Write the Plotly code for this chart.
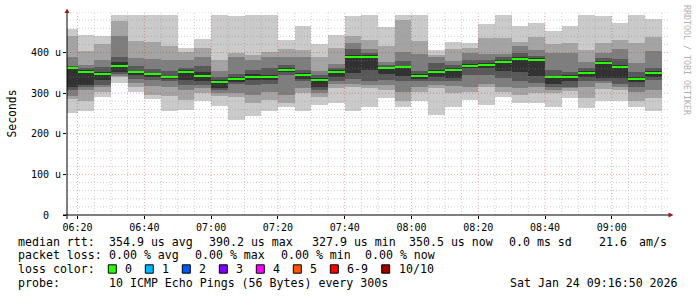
import plotly.graph_objects as go
import pandas as pd

# ---------------- data ----------------
slot_end = pd.date_range("2026-01-24 06:20", periods=36, freq="5min")

# sorted ping rtt values (microseconds) per 5-minute slot, rank 1 (fastest) .. 10 (slowest)
ping01 = [251, 255, 290, 326, 304, 285, 257, 259, 282, 269, 234, 244, 255, 267, 255, 271, 277, 255,
          267, 288, 267, 280, 247, 267, 284, 271, 290, 275, 277, 266, 288, 263, 282, 280, 266, 257]
ping02 = [286, 282, 304, 339, 316, 296, 292, 284, 300, 292, 290, 276, 284, 275, 300, 290, 312, 315,
          312, 308, 280, 304, 312, 300, 304, 315, 304, 296, 300, 300, 306, 288, 310, 307, 282, 288]
ping03 = [292, 308, 315, 343, 326, 318, 316, 308, 312, 301, 300, 296, 303, 296, 312, 300, 323, 323,
          321, 321, 304, 316, 321, 318, 315, 323, 315, 312, 315, 308, 312, 316, 325, 315, 304, 308]
ping04 = [309, 315, 320, 348, 336, 333, 329, 321, 321, 308, 323, 321, 323, 345, 330, 308, 329, 335,
          331, 333, 329, 329, 329, 329, 345, 345, 337, 329, 325, 315, 316, 329, 331, 323, 315, 333]
ping05 = [315, 320, 333, 353, 344, 341, 335, 333, 329, 313, 328, 333, 333, 351, 335, 316, 341, 349,
          356, 347, 343, 335, 339, 337, 361, 361, 355, 351, 343, 323, 330, 341, 337, 337, 327, 341]
ping06 = [365, 356, 351, 378, 355, 349, 343, 357, 353, 333, 339, 347, 345, 362, 349, 337, 356, 393,
          393, 364, 368, 347, 357, 362, 371, 375, 382, 389, 386, 343, 344, 354, 380, 370, 339, 355]
ping07 = [368, 361, 364, 389, 366, 359, 354, 362, 366, 339, 348, 358, 362, 370, 357, 345, 361, 408,
          400, 370, 380, 355, 374, 370, 382, 382, 390, 400, 392, 356, 353, 361, 386, 384, 353, 361]
ping08 = [389, 370, 382, 441, 386, 384, 382, 382, 390, 355, 390, 382, 389, 390, 390, 355, 372, 423,
          408, 378, 402, 396, 388, 380, 398, 396, 397, 416, 407, 400, 398, 378, 400, 408, 375, 405]
ping09 = [441, 405, 421, 478, 429, 425, 417, 402, 412, 382, 398, 394, 402, 408, 407, 390, 411, 441,
          431, 416, 480, 429, 394, 408, 411, 435, 435, 426, 439, 421, 423, 407, 423, 430, 423, 439]
ping10 = [458, 443, 441, 493, 493, 493, 493, 412, 434, 493, 490, 493, 493, 431, 466, 421, 444, 490,
          493, 462, 493, 493, 407, 427, 423, 471, 493, 466, 474, 452, 466, 493, 489, 474, 493, 482]
median_rtt = [362, 353, 348, 367, 352, 347, 340, 353, 343, 327.9, 334, 340, 340, 357, 344, 333, 352, 390.2,
              389, 361, 364, 343, 353, 358, 367, 370, 377, 384, 381, 339, 339, 349, 375, 364, 334, 350.5]

y_tick_values = [0, 100, 200, 300, 400]
y_tick_labels = ["0\u00a0\u00a0", "100 u", "200 u", "300 u", "400 u"]
x_tick_labels = ["06:20", "06:40", "07:00", "07:20", "07:40", "08:00", "08:20", "08:40", "09:00"]

loss_labels = ["0", "1", "2", "3", "4", "5", "6-9", "10/10"]
loss_colors = ["#26ff00", "#00b8ff", "#0059ff", "#7e00ff", "#ff00ff", "#ff5500", "#ff0000", "#a10000"]

stats_rtt = ["354.9 us avg", "390.2 us max", "327.9 us min", "350.5 us now", "0.0 ms sd", "21.6", "am/s"]
stats_loss = ["0.00 % avg", "0.00 % max", "0.00 % min", "0.00 % now"]
probe_text = "10 ICMP Echo Pings (56 Bytes) every 300s"
stamp_text = "Sat Jan 24 09:16:50 2026"

# ---------------- figure ----------------
W, H = 697, 297
L, R, T, B = 67, 668, 12, 215  # plot area in pixels


def px(x):
    return (x - L) / (R - L)


def py(y):
    return (B - y) / (B - T)


MONO = "DejaVu Sans Mono"
centers = slot_end - pd.Timedelta(seconds=150)
step_ms = 300000

fig = go.Figure()

pings = [ping01, ping02, ping03, ping04, ping05, ping06, ping07, ping08, ping09, ping10]
smoke_colors = ["#cacaca", "#a4a4a4", "#7e7e7e", "#585858", "#323232"]
for i in range(5):
    lo = pings[i]
    hi = pings[9 - i]
    fig.add_trace(go.Bar(
        x=centers, base=lo, y=[h - l for h, l in zip(hi, lo)], width=step_ms,
        marker=dict(color=smoke_colors[i], line=dict(width=0)),
        hoverinfo="skip", showlegend=False))

swidth = 500 / (B - T)
fig.add_trace(go.Bar(
    x=centers, base=[m - swidth for m in median_rtt], y=[2 * swidth] * len(median_rtt), width=step_ms,
    marker=dict(color=loss_colors[0], line=dict(width=0)),
    hoverinfo="skip", showlegend=False))

x0 = pd.Timestamp("2026-01-24 06:16:50")
x1 = pd.Timestamp("2026-01-24 09:16:50")

shapes = []
minor_col = "rgba(140,140,140,0.42)"
major_col = "rgba(200,50,50,0.42)"
dash = "1px,2px"
# vertical grid
t = pd.Timestamp("2026-01-24 06:20")
while t < x1:
    major = (t.minute % 20 == 0)
    shapes.append(dict(type="line", xref="x", yref="paper", x0=t, x1=t, y0=0, y1=1,
                       line=dict(color=major_col if major else minor_col, width=1, dash=dash), layer="above"))
    t += pd.Timedelta(minutes=5)
# horizontal grid
for v in range(20, 501, 20):
    major = (v % 100 == 0 and v < 500)
    shapes.append(dict(type="line", xref="paper", yref="y", x0=0, x1=1, y0=v, y1=v,
                       line=dict(color=major_col if major else minor_col, width=1, dash=dash), layer="above"))

# axes lines + arrows
axis_col = "#000000"
arrow_col = "#9b1b1b"
shapes.append(dict(type="line", xref="paper", yref="paper", x0=px(63), x1=px(670), y0=py(215), y1=py(215),
                   line=dict(color=axis_col, width=1), layer="above"))
shapes.append(dict(type="line", xref="paper", yref="paper", x0=px(67), x1=px(67), y0=py(219), y1=py(11),
                   line=dict(color=axis_col, width=1), layer="above"))
shapes.append(dict(type="path", xref="paper", yref="paper",
                   path=f"M {px(64.5)} {py(13)} L {px(67)} {py(8.5)} L {px(69.5)} {py(13)} Z",
                   fillcolor=arrow_col, line=dict(width=0), layer="above"))
shapes.append(dict(type="path", xref="paper", yref="paper",
                   path=f"M {px(668.5)} {py(212.5)} L {px(673.5)} {py(215)} L {px(668.5)} {py(217.5)} Z",
                   fillcolor=arrow_col, line=dict(width=0), layer="above"))

annotations = []


def text(x, y, s, size=11.6, anchor="left", color="#000000", angle=0):
    annotations.append(dict(xref="paper", yref="paper", x=px(x), y=py(y), text=s, showarrow=False,
                            xanchor=anchor, yanchor="middle", textangle=angle,
                            font=dict(family=MONO, size=size, color=color)))


# y-axis title and watermark
text(11, 113.5, "Seconds", size=11.4, anchor="center", angle=-90)
text(687, 60, "RRDTOOL / TOBI OETIKER", size=8.3, anchor="center", color="#b0b0b0", angle=90)

# legend rows
row_y = [241.5, 255.3, 269, 282.7]
text(16, row_y[0], "median rtt:")
for s, x in zip(stats_rtt, [107.3, 207.3, 310, 407.3, 506.7, 596.7, 636.7]):
    text(x, row_y[0], s)
text(16, row_y[1], "packet loss:")
for s, x in zip(stats_loss, [107.3, 193.3, 279.3, 363.3]):
    text(x, row_y[1], s)
text(16, row_y[2], "loss color:")
bx = [108.3 + 37 * i for i in range(7)] + [381.7]
for lab, col, x in zip(loss_labels, loss_colors, bx):
    shapes.append(dict(type="rect", xref="paper", yref="paper", x0=px(x), x1=px(x + 8),
                       y0=py(row_y[2] - 4.2), y1=py(row_y[2] + 4.2),
                       fillcolor=col, line=dict(color="#000000", width=1)))
    text(x + 15, row_y[2], lab)
text(16, row_y[3], "probe:")
text(107.3, row_y[3], probe_text)
text(680, row_y[3], stamp_text, anchor="right")

fig.update_layout(
    width=W, height=H,
    margin=dict(l=L, r=W - R, t=T, b=H - B, pad=0),
    paper_bgcolor="#ffffff", plot_bgcolor="#ffffff",
    barmode="overlay", bargap=0,
    showlegend=False,
    shapes=shapes, annotations=annotations,
    xaxis=dict(type="date", range=[x0, x1], showgrid=False, zeroline=False, showline=False,
               tickvals=[pd.Timestamp("2026-01-24 " + s) for s in x_tick_labels], ticktext=x_tick_labels,
               ticks="outside", ticklen=3, tickcolor="#000000",
               tickfont=dict(family=MONO, size=10, color="#000000"), fixedrange=True),
    yaxis=dict(range=[0, 500], showgrid=False, zeroline=False, showline=False,
               tickvals=y_tick_values, ticktext=y_tick_labels,
               ticks="outside", ticklen=3, tickcolor="#000000",
               tickfont=dict(family=MONO, size=10, color="#000000"), fixedrange=True),
)

fig.write_html("out.html")
